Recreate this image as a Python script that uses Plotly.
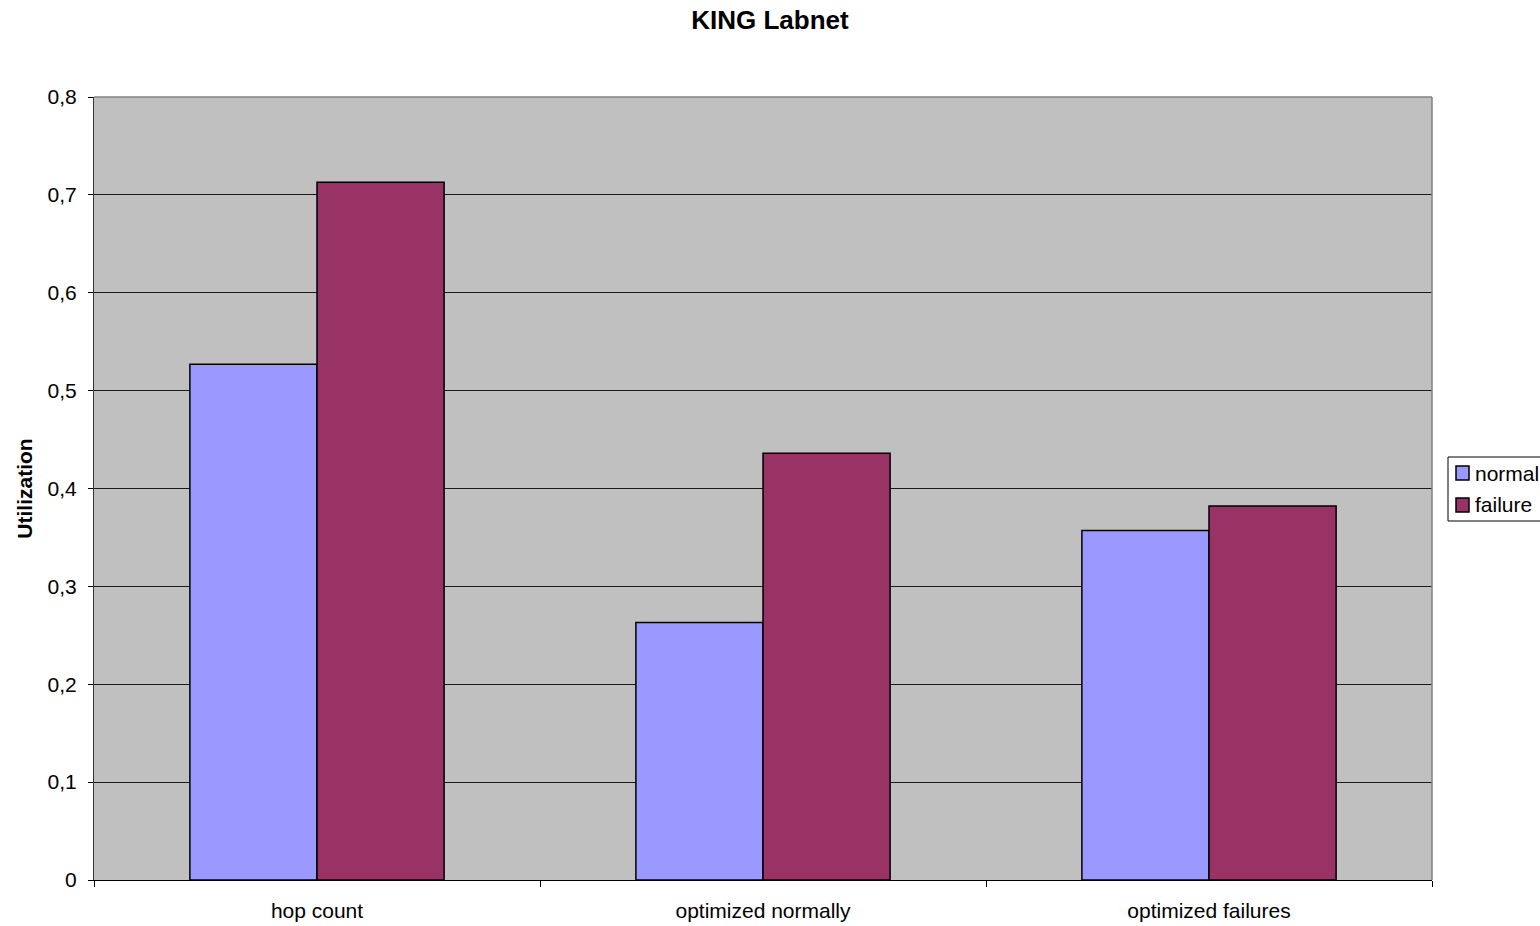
import plotly.graph_objects as go

categories = ["hop count", "optimized normally", "optimized failures"]
series_names = ["normal", "failure"]
series_colors = ["#9999FF", "#993366"]
normal = [0.527, 0.263, 0.357]
failure = [0.713, 0.436, 0.382]
y_ticks = [0, 0.1, 0.2, 0.3, 0.4, 0.5, 0.6, 0.7, 0.8]
y_tick_labels = ["0", "0,1", "0,2", "0,3", "0,4", "0,5", "0,6", "0,7", "0,8"]

FONT = "Liberation Sans, Arial, sans-serif"
W, H = 1540, 926
ML, MR, MT, MB = 94, 108, 97, 46
PW, PH = W - ML - MR, H - MT - MB


def px_x(px):
    return (px - ML) / PW


def px_y(py):
    return (H - MB - py) / PH


fig = go.Figure()
for name, vals, col in zip(series_names, [normal, failure], series_colors):
    fig.add_trace(go.Bar(
        name=name, x=categories, y=vals,
        marker=dict(color=col, line=dict(color="black", width=1.5)),
        showlegend=False,
    ))

fig.update_layout(
    width=W, height=H,
    margin=dict(l=ML, r=MR, t=MT, b=MB, autoexpand=False),
    paper_bgcolor="white",
    plot_bgcolor="#C0C0C0",
    barmode="group",
    bargap=0.43,
    bargroupgap=0,
    font=dict(family=FONT, size=21, color="black"),
    title=dict(
        text="<b>KING Labnet</b>", x=0.5, xref="container", xanchor="center",
        y=1 - 20 / H, yanchor="middle",
        font=dict(family=FONT, size=26, color="black"),
    ),
    showlegend=False,
)

fig.update_xaxes(
    type="category",
    tickson="boundaries",
    ticks="outside", ticklen=6, tickcolor="black", tickwidth=1,
    showline=True, linecolor="black", linewidth=1,
    showgrid=False,
    tickfont=dict(family=FONT, size=21),
    ticklabelstandoff=12,
)
fig.update_yaxes(
    range=[0, 0.8],
    tickvals=y_ticks, ticktext=y_tick_labels,
    ticks="outside", ticklen=5, tickcolor="black", tickwidth=1,
    showline=True, linecolor="#333333", linewidth=1,
    showgrid=True, gridcolor="#1a1a1a", gridwidth=1,
    zeroline=False,
    tickfont=dict(family=FONT, size=21),
    ticklabelstandoff=7,
    title=dict(text="<b>Utilization</b>", font=dict(family=FONT, size=21), standoff=9),
)

# grey frame along top and right of the plot area
fig.add_shape(type="line", xref="paper", yref="paper", x0=0, x1=1, y0=1, y1=1,
              line=dict(color="#808080", width=1.5), layer="above")
fig.add_shape(type="line", xref="paper", yref="paper", x0=1, x1=1, y0=0, y1=1,
              line=dict(color="#808080", width=1.5), layer="above")

# legend box on the right, drawn with shapes and text
fig.add_shape(type="rect", xref="paper", yref="paper",
              x0=px_x(1448), x1=px_x(1560), y0=px_y(521), y1=px_y(457),
              line=dict(color="black", width=1), fillcolor="white", layer="above")
for i, (name, col) in enumerate(zip(series_names, series_colors)):
    cy = 473 + 32 * i
    fig.add_shape(type="rect", xref="paper", yref="paper",
                  x0=px_x(1456), x1=px_x(1469), y0=px_y(cy + 7), y1=px_y(cy - 7),
                  line=dict(color="black", width=1.5), fillcolor=col, layer="above")
    fig.add_annotation(xref="paper", yref="paper", x=px_x(1473), y=px_y(cy),
                       xanchor="left", yanchor="middle", showarrow=False,
                       text=name, font=dict(family=FONT, size=21, color="black"))

fig.write_html("out.html")
